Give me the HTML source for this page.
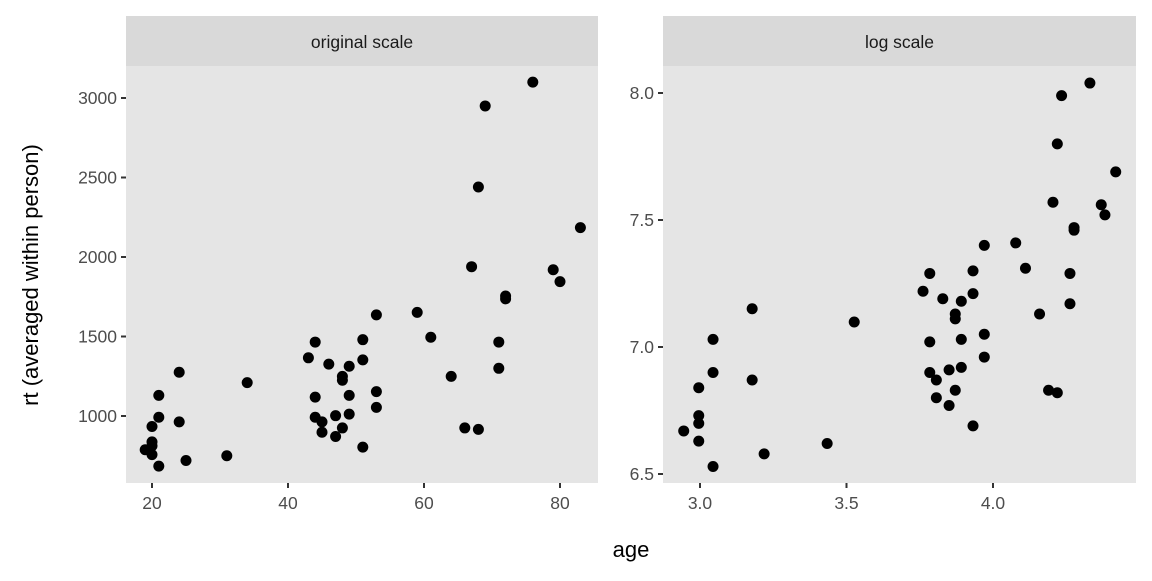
<!DOCTYPE html>
<html><head><meta charset="utf-8"><style>
body{margin:0;background:#fff;}
svg text{font-family:"Liberation Sans",Arial,sans-serif;}
</style></head><body>
<svg id="c" width="1152" height="576" xmlns="http://www.w3.org/2000/svg"></svg>
<script>
const ages=[19,20,20,20,20,21,21,21,24,24,25,31,34,43,44,44,44,45,45,46,47,47,48,48,48,49,49,49,51,51,51,53,53,53,59,61,64,66,67,68,68,69,71,71,72,72,76,79,80,83];
const rts=[788,934,837,812,757,1130,992,685,1275,963,720,750,1210,1366,1465,1119,992,963,898,1326,1002,871,1249,1225,925,1313,1130,1012,1480,1353,804,1636,1153,1054,1652,1495,1249,925,1939,2440,916,2950,1465,1300,1755,1737,3100,1920,1845,2185];
const leftXTicks=[20,40,60,80];
const leftYTicks=[1000,1500,2000,2500,3000];
const rightXTicks=[3.0,3.5,4.0];
const rightYTicks=[6.5,7.0,7.5,8.0];
const facetTitles=["original scale","log scale"];

const NS="http://www.w3.org/2000/svg";
const svg=document.getElementById('c');
function mk(t,a,p){const e=document.createElementNS(NS,t);for(const k in a)e.setAttribute(k,a[k]);(p||svg).appendChild(e);return e;}

const panels=[
 {x0:126,x1:598,fx:a=>152+(a-20)*6.8,fy:v=>416-(v-1000)*0.159,tx:leftXTicks,ty:leftYTicks,lx:v=>String(v),ly:v=>String(v),vx:a=>a,vy:r=>r},
 {x0:663,x1:1136,fx:l=>700+(l-3)*293,fy:l=>347-(l-7)*254,tx:rightXTicks,ty:rightYTicks,lx:v=>v.toFixed(1),ly:v=>v.toFixed(1),vx:a=>Math.log(a),vy:r=>Math.log(r)}
];
const pTop=66,pBot=483;
panels.forEach((p,i)=>{
 const g=mk('g',{});
 
 
 const s=mk('rect',{x:p.x0,y:16,width:p.x1-p.x0,height:50,fill:'#d9d9d9'},g);
 
 
 const st=mk('text',{x:(p.x0+p.x1)/2,y:48,'text-anchor':'middle','font-size':'17.5',fill:'#1a1a1a'},g);
 st.textContent=facetTitles[i];
 
 
 const bg=mk('rect',{x:p.x0,y:pTop,width:p.x1-p.x0,height:pBot-pTop,fill:'#e5e5e5'},g);
 
 
 p.tx.forEach(v=>{const x=p.fx(v);
  mk('line',{x1:x,x2:x,y1:pBot,y2:pBot+5,stroke:'#333','stroke-width':2},g);
  const t=mk('text',{x:x,y:pBot+26,'text-anchor':'middle','font-size':'17.5',fill:'#4d4d4d'},g);t.textContent=p.lx(v);
  
  });
 p.ty.forEach(v=>{const y=p.fy(v);
  mk('line',{x1:p.x0-5,x2:p.x0,y1:y,y2:y,stroke:'#333','stroke-width':2},g);
  const t=mk('text',{x:p.x0-9,y:y+6,'text-anchor':'end','font-size':'17.5',fill:'#4d4d4d'},g);t.textContent=p.ly(v);
  
  });
 ages.forEach((a,j)=>{
  const c=mk('circle',{cx:p.fx(p.vx(a)),cy:p.fy(p.vy(rts[j])),r:5.5,fill:'#000'},g);
  
  
 });
});
const xt=mk('text',{x:631,y:557,'text-anchor':'middle','font-size':'22',fill:'#000'});xt.textContent='age';


const yt=mk('text',{x:0,y:0,'text-anchor':'middle','font-size':'22',fill:'#000',transform:'translate(38,275) rotate(-90)'});yt.textContent='rt (averaged within person)';


</script>
</body></html>
